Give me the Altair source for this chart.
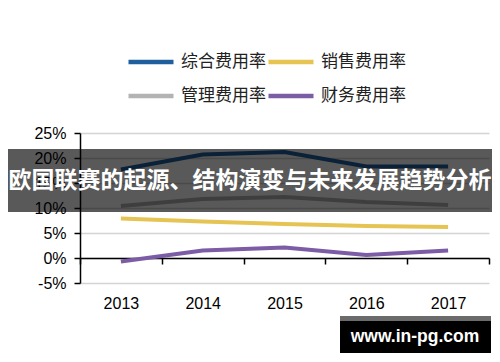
import altair as alt
import pandas as pd

years = [2013, 2014, 2015, 2016, 2017]
series_names = ["综合费用率", "销售费用率", "管理费用率", "财务费用率"]
total_rate = [17.7, 20.7, 21.2, 18.3, 18.3]
sales_rate = [7.9, 7.3, 6.8, 6.4, 6.2]
admin_rate = [10.4, 11.8, 12.2, 11.2, 10.6]
fin_rate = [-0.7, 1.5, 2.1, 0.6, 1.5]
colors = ["#1f5f9e", "#e5c453", "#b3b3b3", "#7d5ca6"]
y_ticks = [-5, 0, 5, 10, 15, 20, 25]
x_bounds = [2012.5, 2013.5, 2014.5, 2015.5, 2016.5, 2017.5]
banner_text = "欧国联赛的起源、结构演变与未来发展趋势分析"
watermark_text = "www.in-pg.com"

rows = []
for name, vals in zip(series_names, [total_rate, sales_rate, admin_rate, fin_rate]):
    for yr, v in zip(years, vals):
        rows.append({"year": yr, "series": name, "value": v})
df = pd.DataFrame(rows)
one = pd.DataFrame({"k": [0]})

W, H = 409, 150

xscale = alt.Scale(domain=[x_bounds[0], x_bounds[-1]], nice=False, zero=False)
yscale = alt.Scale(domain=[y_ticks[0], y_ticks[-1]], nice=False)

lines = alt.Chart(df).mark_line(strokeWidth=4).encode(
    x=alt.X("year:Q", scale=xscale,
            axis=alt.Axis(orient="bottom", values=years, format="d", domain=False,
                          ticks=False, grid=False, labelFontSize=16, labelPadding=12,
                          labelColor="#000", title=None, labelFont="Liberation Sans")),
    y=alt.Y("value:Q", scale=yscale,
            axis=alt.Axis(values=y_ticks, labelExpr="datum.value + '%'", grid=True,
                          gridColor="#d4d4d4", gridWidth=1.5, domainColor="#000",
                          domainWidth=1.5, tickColor="#000", tickSize=6, tickWidth=1.5,
                          labelFontSize=16, labelPadding=8, title=None,
                          labelFont="Liberation Sans", labelColor="#000")),
    color=alt.Color("series:N", scale=alt.Scale(domain=series_names, range=colors),
                    legend=alt.Legend(orient="none", legendX=46, legendY=-96, columns=2,
                                      direction="horizontal",
                                      symbolType="stroke", symbolSize=2025,
                                      symbolStrokeWidth=4.5, labelFontSize=17,
                                      labelFont="Noto Sans CJK SC", labelOffset=5,
                                      columnPadding=-13, rowPadding=-4, title=None,
                                      labelColor="#222")),
)

zero_axis = alt.Chart(df).mark_point(opacity=0).encode(
    x=alt.X("year:Q", scale=xscale,
            axis=alt.Axis(orient="bottom", offset=-25, values=x_bounds, labels=False,
                          domain=True, domainColor="#000", domainWidth=1.5, ticks=True,
                          tickColor="#000", tickSize=6, tickWidth=1.5, grid=False,
                          title=None)),
)

banner_bg = alt.Chart(one).mark_rect(color="#000", opacity=0.65).encode(
    x=alt.value(-72), x2=alt.value(412), y=alt.value(16), y2=alt.value(79))
banner_txt = alt.Chart(one).mark_text(color="#fff", fontSize=23, fontWeight="bold",
                                      font="Noto Sans CJK SC").encode(
    x=alt.value(170), y=alt.value(47.5), text=alt.value(banner_text))

wm_bg = alt.Chart(one).mark_rect(color="#000").encode(
    x=alt.value(260), x2=alt.value(411), y=alt.value(183), y2=alt.value(220))
wm_strip = alt.Chart(one).mark_rect(color="#6b6b6b").encode(
    x=alt.value(260), x2=alt.value(411), y=alt.value(183), y2=alt.value(188))
wm_txt = alt.Chart(one).mark_text(color="#fff", fontSize=17.5, fontWeight="bold",
                                  font="Liberation Sans").encode(
    x=alt.value(335), y=alt.value(204), text=alt.value(watermark_text))

chart = alt.layer(lines, zero_axis, banner_bg, banner_txt, wm_bg, wm_strip, wm_txt).resolve_axis(
    x="independent"
).properties(
    width=W, height=H,
    autosize=alt.AutoSizeParams(type="none"),
    padding={"left": 72, "top": 125, "right": 3, "bottom": 71},
).configure_view(stroke=None)

chart.save("out.html", embed_options={"renderer": "svg", "actions": False})
